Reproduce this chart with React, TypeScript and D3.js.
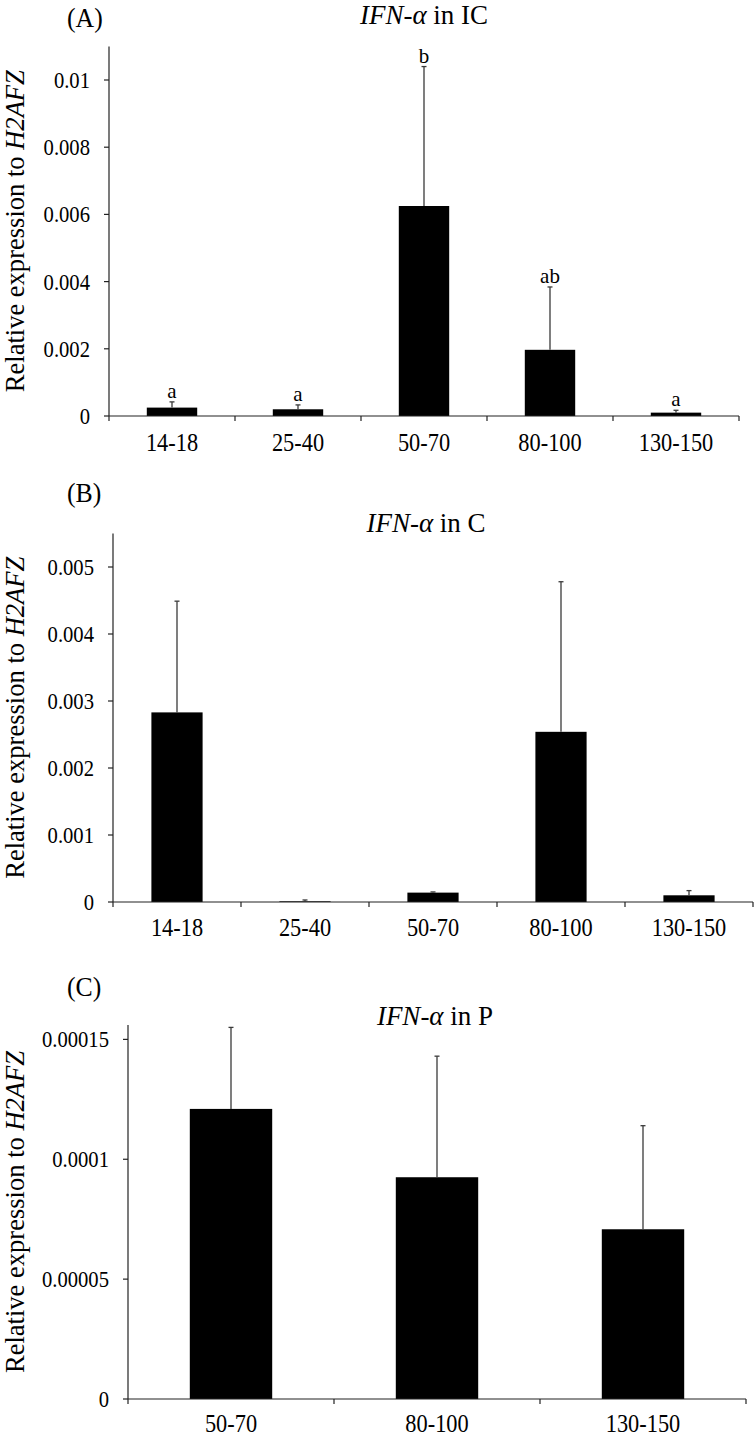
import React from "react";
import * as d3 from "d3";

// ---------- data ----------
const categoriesAB = ["14-18", "25-40", "50-70", "80-100", "130-150"];
const categoriesC = ["50-70", "80-100", "130-150"];

const meanIC = [0.00025, 0.0002, 0.00625, 0.00197, 0.0001];
const errIC = [0.00017, 0.00013, 0.00415, 0.00187, 0.00007];
const lettersIC = ["a", "a", "b", "ab", "a"];

const meanC = [0.00283, 0.00001, 0.00014, 0.00254, 0.0001];
const errC = [0.00166, 0.00002, 0.00001, 0.00224, 0.00007];

const meanP = [0.000121, 0.0000925, 0.0000708];
const errP = [0.000034, 0.0000505, 0.0000432];

const ticksIC = [0, 0.002, 0.004, 0.006, 0.008, 0.01];
const tickLabelsIC = ["0", "0.002", "0.004", "0.006", "0.008", "0.01"];
const ticksC = [0, 0.001, 0.002, 0.003, 0.004, 0.005];
const tickLabelsC = ["0", "0.001", "0.002", "0.003", "0.004", "0.005"];
const ticksP = [0, 0.00005, 0.0001, 0.00015];
const tickLabelsP = ["0", "0.00005", "0.0001", "0.00015"];

const panelLabels = ["(A)", "(B)", "(C)"];
const titleTissues = ["IC", "C", "P"];

// ---------- layout ----------
const FONT = "'Liberation Serif', 'Times New Roman', serif";
const AXIS = "#222";
const ERR = "#3a3a3a";

type PanelCfg = {
  cats: string[];
  mean: number[];
  err: number[];
  letters?: string[];
  ticks: number[];
  tickLabels: string[];
  yMax: number;
  x0: number;
  x1: number;
  yTop: number;
  yZero: number;
  labelY: number;
  panelLabelY: number;
  titleX: number;
  titleY: number;
  label: string;
  tissue: string;
};

const panels: PanelCfg[] = [
  {
    cats: categoriesAB, mean: meanIC, err: errIC, letters: lettersIC,
    ticks: ticksIC, tickLabels: tickLabelsIC, yMax: 0.011,
    x0: 109, x1: 739, yTop: 46.4, yZero: 416, labelY: 451,
    panelLabelY: 27, titleX: 424, titleY: 24, label: panelLabels[0], tissue: titleTissues[0],
  },
  {
    cats: categoriesAB, mean: meanC, err: errC,
    ticks: ticksC, tickLabels: tickLabelsC, yMax: 0.0055,
    x0: 113, x1: 753, yTop: 533.5, yZero: 902, labelY: 936,
    panelLabelY: 502, titleX: 426, titleY: 532, label: panelLabels[1], tissue: titleTissues[1],
  },
  {
    cats: categoriesC, mean: meanP, err: errP,
    ticks: ticksP, tickLabels: tickLabelsP, yMax: 0.000156,
    x0: 128, x1: 746, yTop: 1025, yZero: 1399, labelY: 1432,
    panelLabelY: 996, titleX: 435, titleY: 1025, label: panelLabels[2], tissue: titleTissues[2],
  },
];

function Panel({ p }: { p: PanelCfg }) {
  const x = d3.scaleBand<string>().domain(p.cats).range([p.x0, p.x1]).paddingInner(0.6).paddingOuter(0.3);
  const y = d3.scaleLinear().domain([0, p.yMax]).range([p.yZero, p.yTop]);
  const step = x.step();
  const bw = x.bandwidth();
  const boundaries = p.cats.map((_, i) => p.x0 + step * (i + 1));
  const midY = (p.yTop + p.yZero) / 2;
  return (
    <g>
      {/* panel label */}
      <text transform={`translate(67,${p.panelLabelY}) scale(0.92,1)`} fontFamily={FONT} fontSize={28}>{p.label}</text>
      {/* title */}
      <text x={p.titleX} y={p.titleY} fontFamily={FONT} fontSize={27} textAnchor="middle">
        <tspan fontStyle="italic">IFN-α</tspan>
        <tspan> in {p.tissue}</tspan>
      </text>
      {/* y title */}
      <text
        transform={`translate(24,${midY}) rotate(-90)`}
        fontFamily={FONT}
        fontSize={27}
        textAnchor="middle"
        textLength={322}
        lengthAdjust="spacingAndGlyphs"
      >
        Relative expression to <tspan fontStyle="italic">H2AFZ</tspan>
      </text>
      {/* bars */}
      {p.cats.map((c, i) => (
        <rect key={"b" + c} x={x(c)!} y={y(p.mean[i])} width={bw} height={p.yZero - y(p.mean[i])} fill="#000" />
      ))}
      {/* error bars */}
      {p.cats.map((c, i) => {
        const cx = x(c)! + bw / 2;
        const top = y(p.mean[i] + p.err[i]);
        return (
          <g key={"e" + c} stroke={ERR} strokeWidth={1.3}>
            <line x1={cx} x2={cx} y1={y(p.mean[i])} y2={top} />
            <line x1={cx - 2.5} x2={cx + 2.5} y1={top} y2={top} />
          </g>
        );
      })}
      {/* letters */}
      {p.letters &&
        p.cats.map((c, i) => (
          <text key={"l" + c} x={x(c)! + bw / 2} y={y(p.mean[i] + p.err[i]) - 4} fontFamily={FONT} fontSize={21} textAnchor="middle">
            {p.letters![i]}
          </text>
        ))}
      {/* y axis */}
      <line x1={p.x0} x2={p.x0} y1={p.yTop} y2={p.yZero + 5} stroke={AXIS} strokeWidth={1.2} />
      {p.ticks.map((t, i) => (
        <g key={"t" + i}>
          <line x1={p.x0 - 5} x2={p.x0} y1={y(t)} y2={y(t)} stroke={AXIS} strokeWidth={1.2} />
          <text
            transform={`translate(${p.x0 - 19},${y(t) + 8}) scale(0.86,1)`}
            fontFamily={FONT}
            fontSize={24}
            textAnchor="end"
          >
            {p.tickLabels[i]}
          </text>
        </g>
      ))}
      {/* x axis */}
      <line x1={p.x0} x2={p.x1} y1={p.yZero} y2={p.yZero} stroke={AXIS} strokeWidth={1.2} />
      {boundaries.map((bx, i) => (
        <line key={"xb" + i} x1={bx} x2={bx} y1={p.yZero} y2={p.yZero + 5} stroke={AXIS} strokeWidth={1.2} />
      ))}
      {p.cats.map((c) => (
        <text
          key={"xl" + c}
          transform={`translate(${x(c)! + bw / 2},${p.labelY}) scale(0.86,1)`}
          fontFamily={FONT}
          fontSize={26}
          textAnchor="middle"
        >
          {c}
        </text>
      ))}
    </g>
  );
}

export default function App() {
  return (
    <svg width={756} height={1436} style={{ position: "absolute", left: 0, top: 0, background: "#fff" }}>
      <rect width={756} height={1436} fill="#fff" />
      {panels.map((p, i) => (
        <Panel key={i} p={p} />
      ))}
    </svg>
  );
}
